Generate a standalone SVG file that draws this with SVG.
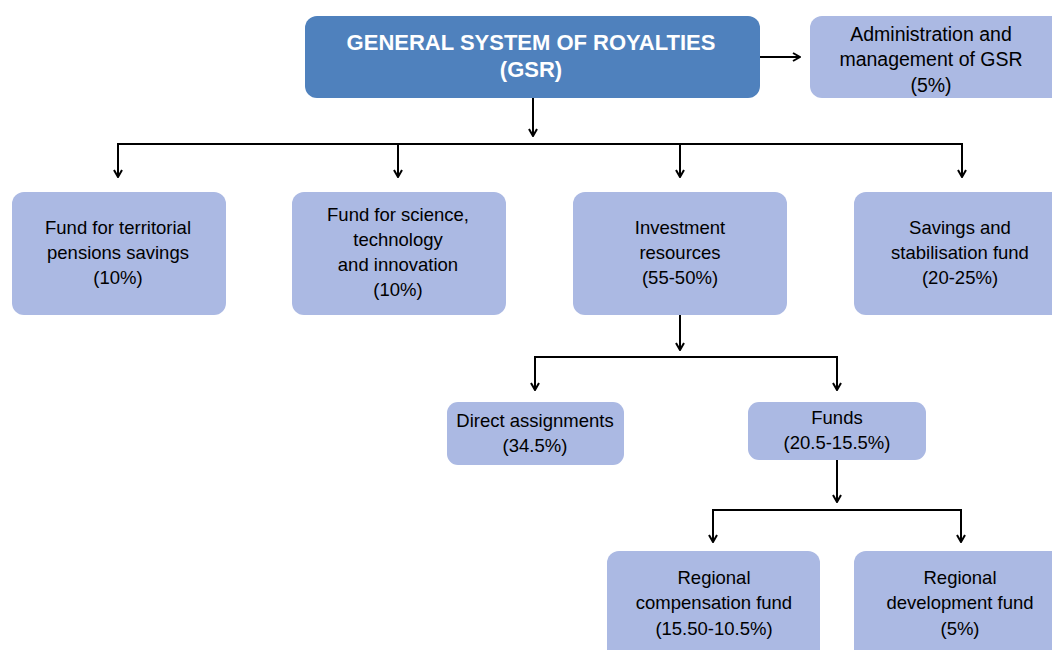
<svg xmlns="http://www.w3.org/2000/svg" width="1052" height="650" viewBox="0 0 1052 650">
  <defs>
    <marker id="arr" viewBox="0 0 10 10" refX="9" refY="5" markerWidth="10" markerHeight="10" markerUnits="userSpaceOnUse" orient="auto">
      <path d="M2,1 L9,5 L2,9" fill="none" stroke="#000" stroke-width="2"/>
    </marker>
  </defs>
  <style>
    .box { fill: #ABB9E3; }
    .main { fill: #4F81BD; }
    .t { font-family: "Liberation Sans", Arial, sans-serif; font-size: 18.5px; fill: #000; text-anchor: middle; }
    .ta { font-family: "Liberation Sans", Arial, sans-serif; font-size: 19.5px; fill: #000; text-anchor: middle; }
    .tm { font-family: "Liberation Sans", Arial, sans-serif; font-size: 22px; font-weight: bold; fill: #fff; text-anchor: middle; }
    .c { fill: none; stroke: #000; stroke-width: 2; }
  </style>
  <rect width="1052" height="650" fill="#fff"/>

  <g id="connectors">
    <line class="c" x1="760" y1="57" x2="800" y2="57" marker-end="url(#arr)"/>
    <line class="c" x1="533" y1="98" x2="533" y2="136" marker-end="url(#arr)"/>
    <polyline class="c" points="118,176 118,144 962,144 962,176"/>
    <line class="c" x1="118" y1="144" x2="118" y2="177" marker-end="url(#arr)"/>
    <line class="c" x1="398" y1="144" x2="398" y2="177" marker-end="url(#arr)"/>
    <line class="c" x1="680" y1="144" x2="680" y2="177" marker-end="url(#arr)"/>
    <line class="c" x1="962" y1="144" x2="962" y2="177" marker-end="url(#arr)"/>
    <line class="c" x1="680" y1="315" x2="680" y2="350" marker-end="url(#arr)"/>
    <polyline class="c" points="535,389 535,357 837,357 837,389"/>
    <line class="c" x1="535" y1="357" x2="535" y2="390" marker-end="url(#arr)"/>
    <line class="c" x1="837" y1="357" x2="837" y2="390" marker-end="url(#arr)"/>
    <line class="c" x1="837" y1="460" x2="837" y2="502" marker-end="url(#arr)"/>
    <polyline class="c" points="713,541 713,510 961,510 961,541"/>
    <line class="c" x1="713" y1="510" x2="713" y2="542" marker-end="url(#arr)"/>
    <line class="c" x1="961" y1="510" x2="961" y2="542" marker-end="url(#arr)"/>
  </g>

  <g id="gsr">
    <rect class="main" x="305" y="16" width="455" height="82" rx="12"/>
    <text class="tm" x="531" y="50">GENERAL SYSTEM OF ROYALTIES</text>
    <text class="tm" x="531" y="77">(GSR)</text>
  </g>

  <g id="admin">
    <rect class="box" x="810" y="16" width="260" height="82" rx="12"/>
    <text class="ta" x="931" y="41">Administration and</text>
    <text class="ta" x="931" y="66">management of GSR</text>
    <text class="ta" x="931" y="92">(5%)</text>
  </g>

  <g id="pensions">
    <rect class="box" x="12" y="192" width="214" height="123" rx="12"/>
    <text class="t" x="118" y="234">Fund for territorial</text>
    <text class="t" x="118" y="259">pensions savings</text>
    <text class="t" x="118" y="284">(10%)</text>
  </g>

  <g id="science">
    <rect class="box" x="292" y="192" width="214" height="123" rx="12"/>
    <text class="t" x="398" y="221">Fund for science,</text>
    <text class="t" x="398" y="246">technology</text>
    <text class="t" x="398" y="271">and innovation</text>
    <text class="t" x="398" y="296">(10%)</text>
  </g>

  <g id="investment">
    <rect class="box" x="573" y="192" width="214" height="123" rx="12"/>
    <text class="t" x="680" y="234">Investment</text>
    <text class="t" x="680" y="259">resources</text>
    <text class="t" x="680" y="284">(55-50%)</text>
  </g>

  <g id="savings">
    <rect class="box" x="854" y="192" width="214" height="123" rx="12"/>
    <text class="t" x="960" y="234">Savings and</text>
    <text class="t" x="960" y="259">stabilisation fund</text>
    <text class="t" x="960" y="284">(20-25%)</text>
  </g>

  <g id="direct">
    <rect class="box" x="447" y="402" width="177" height="63" rx="11"/>
    <text class="t" x="535" y="427">Direct assignments</text>
    <text class="t" x="535" y="452">(34.5%)</text>
  </g>

  <g id="funds">
    <rect class="box" x="748" y="402" width="178" height="58" rx="11"/>
    <text class="t" x="837" y="424">Funds</text>
    <text class="t" x="837" y="449">(20.5-15.5%)</text>
  </g>

  <g id="compensation">
    <rect class="box" x="607" y="551" width="213" height="115" rx="12"/>
    <text class="t" x="714" y="584">Regional</text>
    <text class="t" x="714" y="609">compensation fund</text>
    <text class="t" x="714" y="635">(15.50-10.5%)</text>
  </g>

  <g id="development">
    <rect class="box" x="854" y="551" width="214" height="115" rx="12"/>
    <text class="t" x="960" y="584">Regional</text>
    <text class="t" x="960" y="609">development fund</text>
    <text class="t" x="960" y="635">(5%)</text>
  </g>
</svg>
